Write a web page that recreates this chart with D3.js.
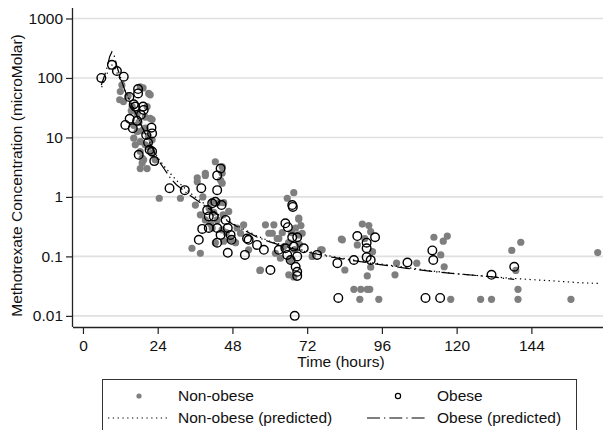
<!DOCTYPE html>
<html><head><meta charset="utf-8">
<script src="https://cdn.jsdelivr.net/npm/d3@7"></script>
<style>body{margin:0;background:#fff}svg{display:block;font-family:"Liberation Sans",Arial,sans-serif}</style>
</head><body><svg id="c" width="605" height="430"></svg>
<script>
// ---- data ----
const xTicks = [0, 24, 48, 72, 96, 120, 144];
const yTicks = [0.01, 0.1, 1, 10, 100, 1000];
const yTickLabels = ["0.01", "0.1", "1", "10", "100", "1000"];
const xTitle = "Time (hours)";
const yTitle = "Methotrexate Concentration (microMolar)";
const legendLabels = ["Non-obese", "Obese", "Non-obese (predicted)", "Obese (predicted)"];

const nonObeseHours = [12.5,12.0,11.8,13.0,18.4,19.3,21.1,21.6,15.8,17.4,20.6,20.0,21.6,16.3,17.4,20.0,16.3,18.4,16.8,20.0,21.1,18.4,19.0,19.0,20.6,18.4,19.5,22.2,23.2,22.2,22.2,14.5,15.5,18.0,19.0,21.0,
  24.5,31.3,36.1,42.5,44.7,44.7,39.3,36.7,36.7,39.3,44.2,44.7,41.5,43.6,45.2,37.7,39.3,43.1,41.5,44.7,49.5,50.6,51.6,42.5,35.0,37.7,45.2,47.4,53.2,46.8,49.0,57.0,58.6,61.3,59.7,60.8,62.9,62.4,64.5,63.4,61.8,56.8,40.5,42.0,45.0,38.5,41.0,46.0,
  65.6,67.7,69.3,69.3,68.3,69.3,70.4,66.1,67.7,66.7,73.6,76.3,76.8,68.0,66.0,69.5,67.0,70.0,64.0,
  83.0,83.3,84.1,89.7,91.8,92.4,88.1,92.4,91.3,87.0,89.2,91.3,92.1,88.9,95.0,90.5,93.0,
  100.7,100.2,107.2,112.7,115.7,117.0,114.9,116.0,118.1,127.7,131.2,137.7,140.6,139.0,139.7,139.7,156.7,165.3];
const nonObeseConc = [76,59,43,40,71,68,55,52,33,25,33,22,21,16,12.5,14.3,9.7,8.5,7.5,7.5,6.9,5.8,4.5,3.7,3.0,3.0,4.2,5.4,4.2,9.1,20,50,28,18,13,10.5,
  0.95,0.95,0.73,3.9,3.2,2.5,2.5,2.1,1.8,2.3,1.9,1.7,0.83,0.8,0.8,0.5,0.41,0.41,0.30,0.28,0.30,0.245,0.34,0.17,0.137,0.113,0.18,0.19,0.129,0.57,0.17,0.059,0.34,0.34,0.245,0.245,0.20,0.2,0.146,0.093,0.113,0.058,0.65,0.55,0.5,1.0,0.35,0.25,
  0.95,1.18,0.42,0.44,0.30,0.23,0.245,0.049,0.045,0.087,0.10,0.129,0.129,0.13,0.17,0.16,0.25,0.33,0.25,
  0.195,0.19,0.059,0.35,0.33,0.26,0.156,0.066,0.047,0.028,0.028,0.028,0.028,0.019,0.019,0.2,0.12,
  0.077,0.049,0.077,0.21,0.18,0.22,0.106,0.067,0.019,0.019,0.019,0.126,0.173,0.058,0.028,0.019,0.019,0.116];

const obeseHours = [5.9,9.3,10.9,13.1,14.9,17.7,17.7,16.3,16.8,19.3,19.5,18.6,15.0,13.6,16.0,17.4,22.0,22.2,20.3,20.9,21.4,22.2,17.9,22.9,27.8,32.7,38.0,
  44.2,43.1,43.1,42.5,41.5,44.5,39.9,40.4,42.0,45.8,38.3,40.4,43.1,44.2,47.4,46.5,47.7,37.2,43.1,46.5,52.7,53.2,55.9,58.1,52.0,60.2,
  67.2,67.4,65.0,65.8,67.2,68.8,62.9,65.0,67.7,70.9,65.6,68.8,66.7,68.3,68.8,68.8,75.2,81.7,68.0,82.0,
  87.0,88.1,91.1,91.1,93.8,91.1,92.4,104.2,110.0,114.7,112.2,112.5,131.2,138.5];
const obeseConc = [100,166,131,105,48,65,55,36,33,33,29,24,20.6,16.2,14.3,19,14.6,11.7,11,8.2,6.2,5.8,5.1,4.0,1.4,1.3,1.4,
  3.0,2.3,1.3,0.83,0.78,0.73,0.60,0.47,0.47,0.41,0.29,0.30,0.30,0.23,0.23,0.30,0.19,0.19,0.17,0.115,0.20,0.19,0.156,0.129,0.106,0.059,
  0.73,0.68,0.36,0.31,0.21,0.21,0.129,0.137,0.146,0.137,0.106,0.10,0.087,0.067,0.055,0.047,0.106,0.077,0.01,0.02,
  0.087,0.22,0.17,0.137,0.21,0.097,0.087,0.079,0.02,0.02,0.126,0.087,0.049,0.067];

const nonObesePredHours = [6,7.5,8.6,9.3,10.1,11,12.5,13.6,16,18,20,22,24,26,28,30,33,36,40,44,48,52,56,60,66,72,80,88,96,104,112,120,130,140,150,160,166];
const nonObesePredConc  = [70,110,150,165,150,120,85,60,33,20,12,7.2,4.6,3.3,2.5,1.9,1.35,1.0,0.7,0.48,0.36,0.28,0.22,0.18,0.145,0.122,0.1,0.085,0.074,0.065,0.057,0.051,0.046,0.042,0.039,0.036,0.035];
const obesePredHours = [5.9,7.5,8.6,9.3,10.1,11,12.5,13.6,16,18,20,22,24,26,28,30,33,36,40,44,48,52,56,60,66,72,80,88,96,104,112,120,130,138.5];
const obesePredConc  = [76,135,230,275,230,150,87,59,32,19,11.5,7,4.3,3.0,2.1,1.6,1.2,0.92,0.66,0.47,0.35,0.27,0.21,0.175,0.14,0.118,0.097,0.083,0.072,0.063,0.056,0.051,0.046,0.041];

// ---- drawing ----
const svg = d3.select("#c");
const L = 73, R = 603, T = 8, B = 327;
const x = d3.scaleLinear().domain([-3.2, 167]).range([L, R]);
const y = d3.scaleLog().domain([0.0065, 1500]).range([B, T]);
const fs = "15.5px";

// gridlines
svg.append("g").selectAll("line").data(yTicks).join("line")
  .attr("x1", L).attr("x2", R).attr("y1", d => y(d)).attr("y2", d => y(d))
  .attr("stroke", "#e0e0e0").attr("stroke-width", 1.6);

// axes
const xa = svg.append("g").attr("transform", `translate(0,${B})`)
  .call(d3.axisBottom(x).tickValues(xTicks).tickSize(7).tickPadding(6).tickSizeOuter(0));
xa.select(".domain").attr("stroke", "#222").attr("stroke-width", 1.3).attr("d", `M${L},0.5H${R}`);
xa.selectAll(".tick line").attr("stroke", "#222").attr("stroke-width", 1.2);
xa.selectAll(".tick text").attr("font-size", fs).attr("fill", "#111").attr("font-family", "Liberation Sans, Arial, sans-serif");

const ya = svg.append("g").attr("transform", `translate(${L},0)`)
  .call(d3.axisLeft(y).tickValues(yTicks).tickFormat((d, i) => yTickLabels[i]).tickSize(7).tickPadding(3).tickSizeOuter(0));
ya.select(".domain").attr("stroke", "#222").attr("stroke-width", 1.3).attr("d", `M-0.5,${T}V${B}`);
ya.selectAll(".tick line").attr("stroke", "#222").attr("stroke-width", 1.2);
ya.selectAll(".tick text").attr("font-size", fs).attr("fill", "#111").attr("font-family", "Liberation Sans, Arial, sans-serif");

// titles
svg.append("text").attr("x", 341).attr("y", 367).attr("text-anchor", "middle")
  .attr("font-size", fs).attr("fill", "#111").text(xTitle);
svg.append("text").attr("transform", `translate(22,${(T + B) / 2 + 8}) rotate(-90)`)
  .attr("text-anchor", "middle").attr("font-size", fs).attr("fill", "#111").text(yTitle);

// points
const nonObese = nonObeseHours.map((h, i) => [h, nonObeseConc[i]]);
const obese = obeseHours.map((h, i) => [h, obeseConc[i]]);
svg.append("g").selectAll("circle").data(nonObese).join("circle")
  .attr("cx", d => x(d[0])).attr("cy", d => y(d[1])).attr("r", 3.6).attr("fill", "#7f7f7f");
svg.append("g").selectAll("circle").data(obese).join("circle")
  .attr("cx", d => x(d[0])).attr("cy", d => y(d[1])).attr("r", 4.3)
  .attr("fill", "none").attr("stroke", "#000").attr("stroke-width", 1.4);

// predicted lines
const line = d3.line().x(d => x(d[0])).y(d => y(d[1]));
const nop = nonObesePredHours.map((h, i) => [h, nonObesePredConc[i]]);
const op = obesePredHours.map((h, i) => [h, obesePredConc[i]]);
svg.append("path").attr("d", line(nop)).attr("fill", "none").attr("stroke", "#000")
  .attr("stroke-width", 1.2).attr("stroke-dasharray", "1.3,3.5");
svg.append("path").attr("d", line(op)).attr("fill", "none").attr("stroke", "#000")
  .attr("stroke-width", 1.2).attr("stroke-dasharray", "13,4,1.3,4");

// legend
const lg = svg.append("g");
lg.append("rect").attr("x", 102.5).attr("y", 379.5).attr("width", 474).attr("height", 60)
  .attr("fill", "#fff").attr("stroke", "#333").attr("stroke-width", 1);
const r1 = 396, r2 = 418;
lg.append("circle").attr("cx", 139).attr("cy", r1).attr("r", 2.6).attr("fill", "#7f7f7f");
lg.append("circle").attr("cx", 398).attr("cy", r1).attr("r", 2.6).attr("fill", "none").attr("stroke", "#000").attr("stroke-width", 1.2);
lg.append("line").attr("x1", 108).attr("x2", 167).attr("y1", r2).attr("y2", r2)
  .attr("stroke", "#000").attr("stroke-width", 1.2).attr("stroke-dasharray", "1.3,3.5");
lg.append("line").attr("x1", 367).attr("x2", 427).attr("y1", r2).attr("y2", r2)
  .attr("stroke", "#000").attr("stroke-width", 1.2).attr("stroke-dasharray", "13,4,1.3,4");
const tpos = [[178, r1], [437, r1], [178, r2], [437, r2]];
lg.selectAll("text.l").data(legendLabels).join("text").attr("class", "l")
  .attr("x", (d, i) => tpos[i][0]).attr("y", (d, i) => tpos[i][1]).attr("dy", "0.35em")
  .attr("font-size", fs).attr("fill", "#111").text(d => d);
</script></body></html>
